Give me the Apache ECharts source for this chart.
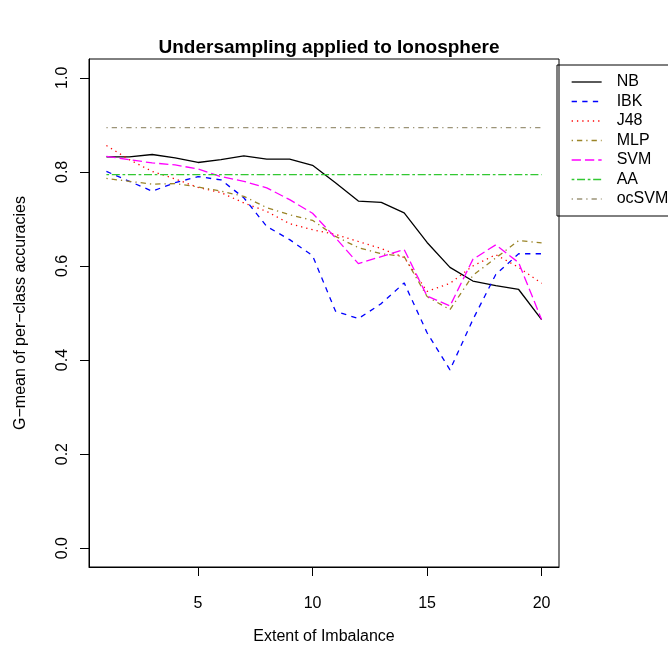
<!DOCTYPE html>
<html>
<head>
<meta charset="utf-8">
<script src="https://cdn.jsdelivr.net/npm/echarts@6/dist/echarts.min.js"></script>
<style>
  html, body { margin: 0; padding: 0; background: #fff; }
  #chart { width: 668px; height: 650px; }
</style>
</head>
<body>
<div id="chart"></div>
<script>
// extent of imbalance (x)
const extent = [1, 2, 3, 4, 5, 6, 7, 8, 9, 10, 11, 12, 13, 14, 15, 16, 17, 18, 19, 20];

// G-mean per method
const nbValues    = [0.832, 0.832, 0.837, 0.830, 0.820, 0.826, 0.834, 0.827, 0.827, 0.814, 0.777, 0.738, 0.735, 0.713, 0.650, 0.597, 0.568, 0.558, 0.550, 0.486];
const ibkValues   = [0.801, 0.780, 0.759, 0.777, 0.790, 0.783, 0.745, 0.684, 0.656, 0.622, 0.504, 0.488, 0.520, 0.564, 0.458, 0.379, 0.486, 0.582, 0.626, 0.626];
const j48Values   = [0.856, 0.826, 0.801, 0.785, 0.767, 0.756, 0.734, 0.716, 0.690, 0.677, 0.667, 0.652, 0.637, 0.618, 0.546, 0.563, 0.600, 0.624, 0.597, 0.563];
const mlpValues   = [0.786, 0.780, 0.774, 0.775, 0.768, 0.759, 0.748, 0.724, 0.709, 0.697, 0.663, 0.639, 0.626, 0.620, 0.535, 0.507, 0.580, 0.617, 0.654, 0.649];
const svmValues   = [0.833, 0.826, 0.819, 0.815, 0.806, 0.790, 0.780, 0.766, 0.741, 0.712, 0.660, 0.605, 0.620, 0.635, 0.536, 0.515, 0.614, 0.645, 0.607, 0.486];
const aaValues    = [0.794, 0.794, 0.794, 0.794, 0.794, 0.794, 0.794, 0.794, 0.794, 0.794, 0.794, 0.794, 0.794, 0.794, 0.794, 0.794, 0.794, 0.794, 0.794, 0.794];
const ocsvmValues = [0.894, 0.894, 0.894, 0.894, 0.894, 0.894, 0.894, 0.894, 0.894, 0.894, 0.894, 0.894, 0.894, 0.894, 0.894, 0.894, 0.894, 0.894, 0.894, 0.894];

const xTicks = [5, 10, 15, 20];
const yTicks = [0, 0.2, 0.4, 0.6, 0.8, 1.0];

const FONT = 'Liberation Sans, Arial, Helvetica, sans-serif';

function pairs(vals) {
  return extent.map((x, i) => [x, vals[i]]);
}

function lineSeries(name, vals, color, dash) {
  return {
    name,
    type: 'line',
    data: pairs(vals),
    showSymbol: false,
    symbol: 'none',
    animation: false,
    lineStyle: { color, width: 1.3, type: dash, cap: 'butt' },
    itemStyle: { color }
  };
}

const chart = echarts.init(document.getElementById('chart'));
chart.setOption({
  animation: false,
  backgroundColor: '#fff',
  textStyle: { fontFamily: FONT },
  title: {
    text: 'Undersampling applied to Ionosphere',
    left: 324,
    top: 33,
    textAlign: 'center',
    textStyle: { fontFamily: FONT, fontSize: 19, fontWeight: 'bold', color: '#000' }
  },
  legend: {
    orient: 'vertical',
    left: 557,
    top: 65,
    padding: [9, 20, 9, 14],
    borderColor: '#000',
    borderWidth: 1,
    itemWidth: 30,
    itemHeight: 14,
    itemGap: 3.5,
    itemStyle: { opacity: 0, borderWidth: 0 },
    lineStyle: { width: 1.3 },
    textStyle: { fontFamily: FONT, fontSize: 16, color: '#000', lineHeight: 16, padding: [0, 0, 0, 10] }
  },
  grid: {
    left: 89, right: 109, top: 59, bottom: 82,
    show: true, borderColor: '#000', borderWidth: 1
  },
  xAxis: {
    type: 'value',
    min: 0.24,
    max: 20.76,
    name: 'Extent of Imbalance',
    nameLocation: 'middle',
    nameGap: 62,
    nameTextStyle: { fontFamily: FONT, fontSize: 16, color: '#000' },
    axisLine: { show: true, onZero: false, lineStyle: { color: '#000', width: 1 } },
    axisTick: { show: true, length: 9, customValues: xTicks, lineStyle: { color: '#000' } },
    axisLabel: { customValues: xTicks, margin: 29, fontSize: 16, color: '#000', fontFamily: FONT },
    splitLine: { show: false }
  },
  yAxis: {
    type: 'value',
    min: -0.04,
    max: 1.04,
    name: 'G\u2212mean of per\u2212class accuracies',
    nameLocation: 'middle',
    nameGap: 60,
    nameTextStyle: { fontFamily: FONT, fontSize: 16, color: '#000' },
    axisLine: { show: true, onZero: false, lineStyle: { color: '#000', width: 1 } },
    axisTick: { show: true, length: 9, customValues: yTicks, lineStyle: { color: '#000' } },
    axisLabel: {
      customValues: yTicks,
      rotate: 90,
      margin: 18,
      fontSize: 16,
      color: '#000',
      fontFamily: FONT,
      formatter: v => v.toFixed(1)
    },
    splitLine: { show: false }
  },
  series: [
    lineSeries('NB', nbValues, '#000000', 'solid'),
    lineSeries('IBK', ibkValues, '#0000FF', [5.3, 5.3]),
    lineSeries('J48', j48Values, '#FF0000', [1.3, 4]),
    lineSeries('MLP', mlpValues, '#9A8427', [1.3, 4, 5.3, 4]),
    lineSeries('SVM', svmValues, '#FF00FF', [9.3, 4]),
    lineSeries('AA', aaValues, '#32C832', [2.7, 2.7, 8, 2.7]),
    lineSeries('ocSVM', ocsvmValues, '#9C9478', [1.3, 4, 5.3, 4])
  ]
});
</script>
</body>
</html>
